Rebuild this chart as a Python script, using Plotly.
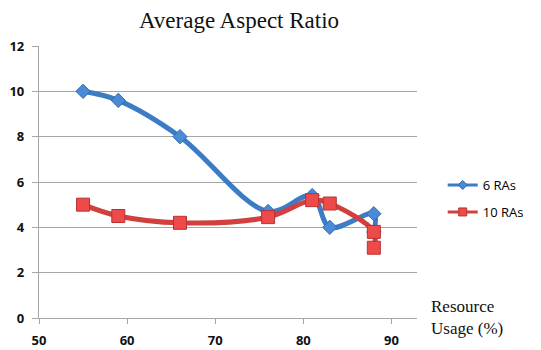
import plotly.graph_objects as go

# Data
usage_6 = [55, 59, 66, 76, 81, 83, 88, 88]
ratio_6 = [10.0, 9.6, 8.0, 4.7, 5.4, 4.0, 4.6, 3.8]
usage_10 = [55, 59, 66, 76, 81, 83, 88, 88]
ratio_10 = [5.0, 4.5, 4.2, 4.45, 5.2, 5.05, 3.8, 3.1]
series_names = ["6 RAs", "10 RAs"]
y_ticks = [0, 2, 4, 6, 8, 10, 12]
x_ticks = [50, 60, 70, 80, 90]

BLUE_LINE, BLUE_FILL, BLUE_EDGE = "#3b7cc4", "#4a8ad6", "#2f6cb3"
RED_LINE, RED_FILL, RED_EDGE = "#d23f3f", "#ee4a4a", "#b83232"

fig = go.Figure()
fig.add_trace(go.Scatter(
    x=usage_6, y=ratio_6, name=series_names[0], mode="lines+markers", showlegend=False,
    line=dict(color=BLUE_LINE, width=5, shape="spline", smoothing=1.0),
    marker=dict(symbol="diamond", size=11, color=BLUE_FILL, line=dict(color=BLUE_EDGE, width=1)),
))
fig.add_trace(go.Scatter(
    x=usage_10, y=ratio_10, name=series_names[1], mode="lines+markers", showlegend=False,
    line=dict(color=RED_LINE, width=5, shape="spline", smoothing=1.0),
    marker=dict(symbol="square", size=13, color=RED_FILL, line=dict(color=RED_EDGE, width=1)),
))
# legend entries (small symbols, like the original legend)
fig.add_trace(go.Scatter(
    x=[None], y=[None], name=series_names[0], mode="lines+markers", legend="legend",
    line=dict(color=BLUE_LINE, width=3),
    marker=dict(symbol="diamond", size=7, color=BLUE_FILL, line=dict(color=BLUE_EDGE, width=1)),
))
fig.add_trace(go.Scatter(
    x=[None], y=[None], name=series_names[1], mode="lines+markers", legend="legend2",
    line=dict(color=RED_LINE, width=3),
    marker=dict(symbol="square", size=8, color=RED_FILL, line=dict(color=RED_EDGE, width=1)),
))

SANS = "Open Sans, Liberation Sans, Arial"
SERIF = "Liberation Serif, Times New Roman, serif"
leg_font = dict(family=SANS, size=13, color="#000")
tick_font = dict(family=SANS, size=13, color="#111", weight="bold")

fig.update_layout(
    width=541, height=350,
    margin=dict(l=39, r=107, t=46, b=32),
    paper_bgcolor="white", plot_bgcolor="white",
    title=dict(text="Average Aspect Ratio", x=239 / 541, xanchor="center",
               y=1 - 20 / 350, yanchor="middle", automargin=False,
               font=dict(family=SERIF, size=23, color="#111")),
    showlegend=True,
    legend=dict(x=1.068, y=(318 - 185) / 272, xanchor="left", yanchor="middle",
                font=leg_font, itemwidth=30, bgcolor="rgba(0,0,0,0)", borderwidth=0),
    legend2=dict(x=1.068, y=(318 - 212) / 272, xanchor="left", yanchor="middle",
                 font=leg_font, itemwidth=30, bgcolor="rgba(0,0,0,0)", borderwidth=0),
    xaxis=dict(range=[50, 92.9], tickvals=x_ticks, ticktext=[str(v) for v in x_ticks],
               showgrid=False, zeroline=False, showline=True, linecolor="#a6a6a6", linewidth=1.3,
               ticks="outside", ticklen=5, tickcolor="#a6a6a6", ticklabelstandoff=5,
               automargin=False, tickfont=tick_font),
    yaxis=dict(range=[0, 12], tickvals=y_ticks, ticktext=[str(v) for v in y_ticks],
               showgrid=True, gridcolor="#a6a6a6", gridwidth=1.3, zeroline=False,
               showline=True, linecolor="#a6a6a6", linewidth=1.3,
               ticks="outside", ticklen=6, tickcolor="#a6a6a6", ticklabelstandoff=5,
               automargin=False, tickfont=tick_font),
)

fig.add_annotation(
    text="Resource<br>Usage (%)", xref="paper", yref="paper",
    x=(447 - 39) / 395, y=(318 - 295) / 272, xanchor="left", yanchor="top",
    align="left", showarrow=False,
    font=dict(family=SERIF, size=17, color="#111"),
)

fig.write_html("out.html")
